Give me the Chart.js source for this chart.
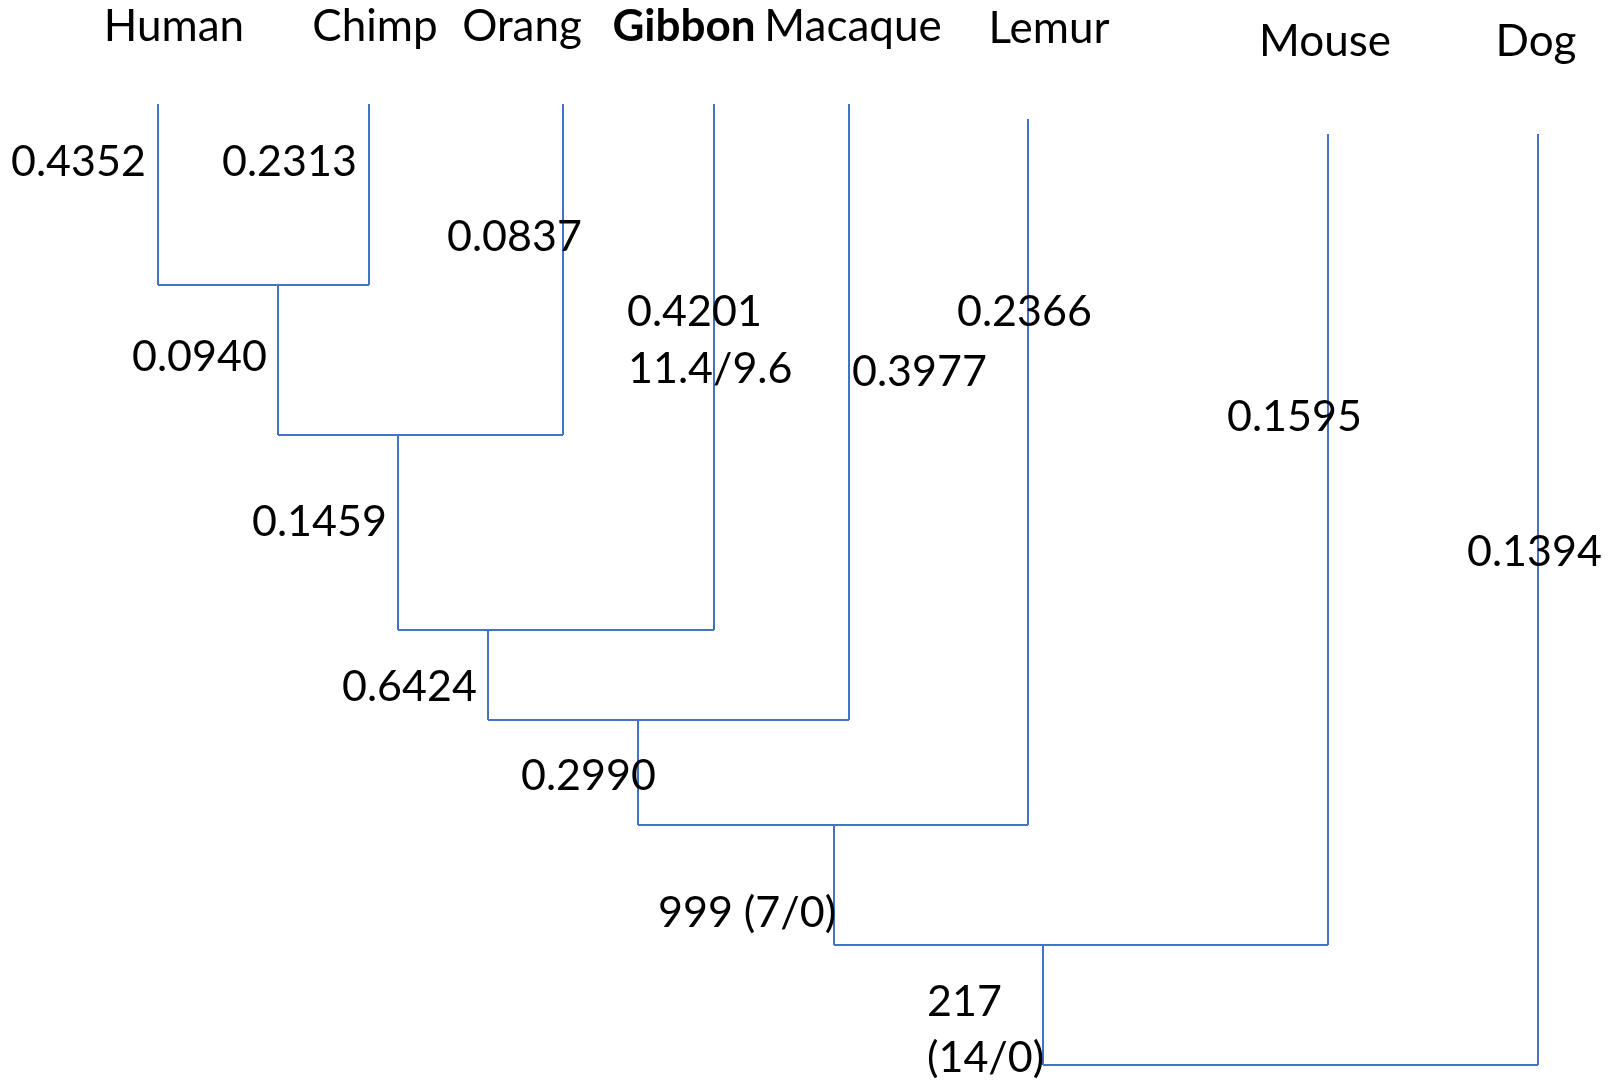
<!DOCTYPE html>
<html>
<head>
<meta charset="utf-8">
<script src="https://cdn.jsdelivr.net/npm/chart.js@4"></script>
<style>
  html, body { margin: 0; padding: 0; background: #fff; }
  #wrap { width: 1619px; height: 1081px; position: relative; }
</style>
</head>
<body>
<div id="wrap"><canvas id="tree"></canvas></div>
<script>
// taxa, left to right
var leaves = ["Human", "Chimp", "Orang", "Gibbon", "Macaque", "Lemur", "Mouse", "Dog"];
var leafX = [158, 369, 563, 714, 849, 1028, 1328, 1538];
var leafTop = [104, 104, 104, 104, 104, 119, 134, 134];
var leafLabelX = [174, 375, 522, 684, 853, 1049, 1325, 1536];
var leafLabelY = [27, 27, 27, 27, 27, 29, 42, 42];

// ladder joins: height of each join, x of the stem under each join
var joinY = [285, 435, 630, 720, 825, 945, 1065];
var nodeX = [278, 398, 488, 638, 834, 1043];

// branch lengths / support labels
var branchText = ["0.4352", "0.2313", "0.0837", "0.0940", "0.4201", "11.4/9.6", "0.3977",
  "0.2366", "0.1459", "0.1595", "0.1394", "0.6424", "0.2990", "999 (7/0)", "217", "(14/0)"];
var branchX = [11, 222, 447, 132, 627, 628, 852, 957, 252, 1227, 1467, 342, 521, 658, 927, 927];
var branchY = [162, 162, 237, 357, 312, 369, 372, 312, 522, 417, 552, 687, 776, 913, 1002, 1058];

var lineColor = "#4472C4";

var segs = [];
// leaf branches
for (var i = 0; i < leaves.length; i++) {
  var bottom = joinY[Math.max(i - 1, 0)];
  segs.push([{x: leafX[i], y: leafTop[i]}, {x: leafX[i], y: bottom}]);
}
// horizontal joins
for (var k = 0; k < joinY.length; k++) {
  var left = k == 0 ? leafX[0] : nodeX[k - 1];
  segs.push([{x: left, y: joinY[k]}, {x: leafX[k + 1], y: joinY[k]}]);
}
// internal stems
for (var n = 0; n < nodeX.length; n++) {
  segs.push([{x: nodeX[n], y: joinY[n]}, {x: nodeX[n], y: joinY[n + 1]}]);
}

var datasets = segs.map(function (s) {
  return {
    data: s,
    showLine: true,
    borderColor: lineColor,
    borderWidth: 2,
    pointRadius: 0,
    fill: false
  };
});

var labelPlugin = {
  id: "treeLabels",
  afterDatasetsDraw: function (chart) {
    var c = chart.ctx, sx = chart.scales.x, sy = chart.scales.y;
    c.save();
    c.fillStyle = "#000";
    c.textBaseline = "middle";
    c.textAlign = "center";
    for (var i = 0; i < leaves.length; i++) {
      c.font = (leaves[i] == "Gibbon" ? "bold " : "") + "44px Lato";
      c.fillText(leaves[i], sx.getPixelForValue(leafLabelX[i]), sy.getPixelForValue(leafLabelY[i]));
    }
    c.textAlign = "left";
    c.font = "43px Lato";
    for (var j = 0; j < branchText.length; j++) {
      c.fillText(branchText[j], sx.getPixelForValue(branchX[j]), sy.getPixelForValue(branchY[j]));
    }
    c.restore();
  }
};

new Chart(document.getElementById("tree").getContext("2d"), {
  type: "scatter",
  data: { datasets: datasets },
  options: {
    responsive: true,
    maintainAspectRatio: false,
    animation: false,
    layout: { padding: 0 },
    plugins: { legend: { display: false }, tooltip: { enabled: false } },
    scales: {
      x: { type: "linear", min: 0, max: 1619, display: false },
      y: { type: "linear", min: 0, max: 1081, reverse: true, display: false }
    }
  },
  plugins: [labelPlugin]
});
</script>
</body>
</html>
